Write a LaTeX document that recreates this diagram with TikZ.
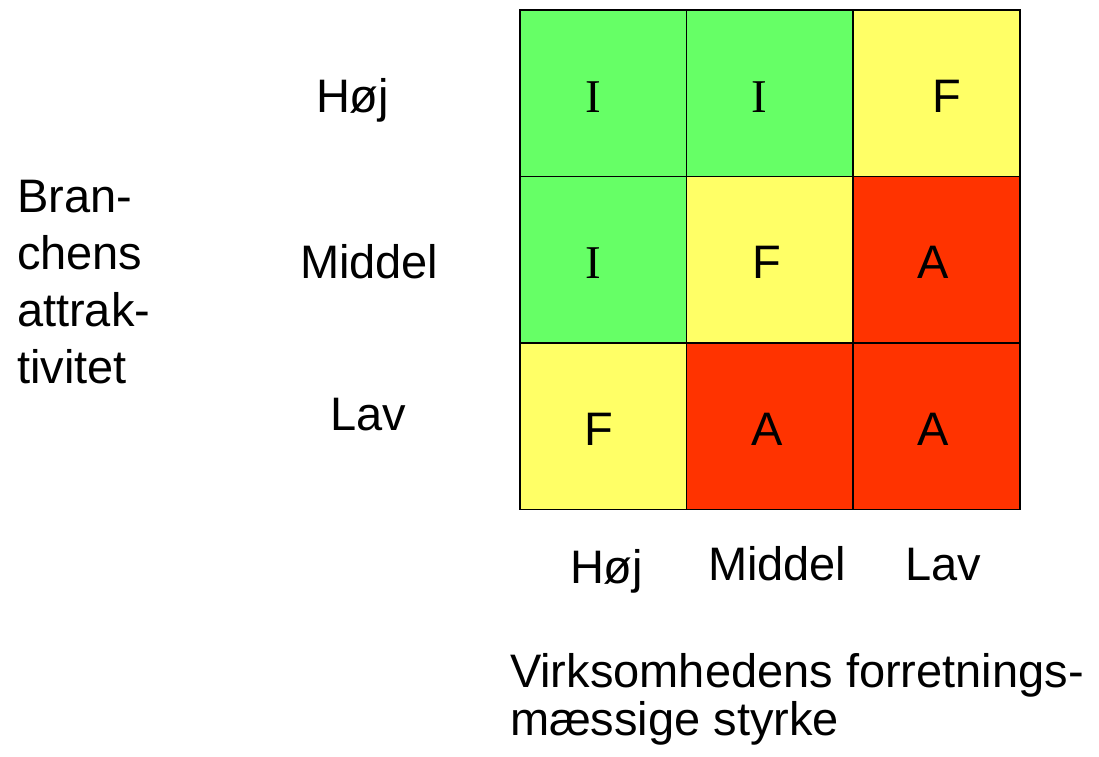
\documentclass[tikz,border=0pt]{standalone}
\usepackage{fontspec}
\setmainfont{Liberation Sans}
\newfontfamily\serifI{Liberation Serif}
\definecolor{cgreen}{RGB}{102,255,102}
\definecolor{cyellow}{RGB}{255,255,102}
\definecolor{cred}{RGB}{255,51,0}
\begin{document}
\begin{tikzpicture}[x=1pt,y=-1pt,
  every node/.style={inner sep=0pt, outer sep=0pt},
  cell/.style={draw=black, line width=1.5pt, minimum width=167pt, minimum height=166.5pt},
  letter/.style={font=\fontsize{47}{56}\selectfont, anchor=base},
  lbl/.style={font=\fontsize{47}{56}\selectfont, anchor=base west}]
\useasboundingbox (0,0) rectangle (1099,756);
% cells
\node[cell, fill=cgreen]  (c11) at (603.5,93) {};
\node[cell, fill=cgreen]  (c12) at (770,93) {};
\node[cell, fill=cyellow] (c13) at (936.5,93) {};
\node[cell, fill=cgreen]  (c21) at (603.5,259.5) {};
\node[cell, fill=cyellow] (c22) at (770,259.5) {};
\node[cell, fill=cred]    (c23) at (936.5,259.5) {};
\node[cell, fill=cyellow] (c31) at (603.5,426) {};
\node[cell, fill=cred]    (c32) at (770,426) {};
\node[cell, fill=cred]    (c33) at (936.5,426) {};
% letters
\node[letter] (l11) at (593.5,112) {\serifI I};
\node[letter] (l12) at (759.5,112) {\serifI I};
\node[letter] (l13) at (946.5,112) {F};
\node[letter] (l21) at (593.5,278) {\serifI I};
\node[letter] (l22) at (767,278) {F};
\node[letter] (l23) at (933.5,278) {A};
\node[letter] (l31) at (599,445) {F};
\node[letter] (l32) at (767.5,445) {A};
\node[letter] (l33) at (933.5,445) {A};
% row labels
\node[lbl] (rh) at (316,112) {Høj};
\node[lbl] (rm) at (300,278) {Middel};
\node[lbl] (rl) at (330,430) {Lav};
% column labels
\node[lbl] (kh) at (570,583) {Høj};
\node[lbl] (km) at (708,580) {Middel};
\node[lbl] (kl) at (905,580) {Lav};
% axis titles (base anchor = baseline of last line)
\node[lbl, font=\fontsize{47}{57}\selectfont, align=left] (ytitle) at (17,383) {Bran-\\chens\\attrak-\\tivitet};
\node[lbl, font=\fontsize{47}{48}\selectfont, align=left] (xtitle) at (510,735) {Virksomhedens forretnings-\\mæssige styrke};
\end{tikzpicture}
\end{document}
